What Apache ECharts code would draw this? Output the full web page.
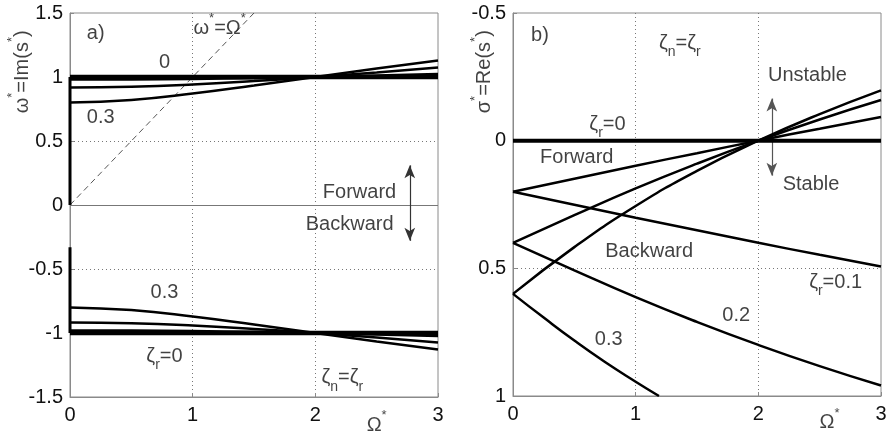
<!DOCTYPE html>
<html>
<head>
<meta charset="utf-8">
<script src="https://cdn.jsdelivr.net/npm/echarts@6/dist/echarts.min.js"></script>
<style>
  html, body { margin: 0; padding: 0; background: #fff; }
  #chart { width: 892px; height: 436px; }
</style>
</head>
<body>
<div id="chart"></div>
<script>
// ---- Tick values ----
const xTicks = [0, 1, 2, 3];
const yTicksA = [-1.5, -1, -0.5, 0, 0.5, 1, 1.5];
const yTicksB = [-0.5, 0, 0.5, 1];

// ---- Rotor speed samples ----
const OMEGA = [0, 0.5, 1, 1.5, 2, 2.5, 3];
const OMEGA_B3 = [0, 0.25, 0.5, 0.75, 1, 1.19];

// ---- a) whirl frequency, forward branches (zeta_r = 0, 0.1, 0.2, 0.3) ----
const imFwd0 = [1, 1, 1, 1, 1, 1, 1];
const imFwd1 = [0.98, 0.981, 0.985, 0.991, 1, 1.011, 1.023];
const imFwd2 = [0.917, 0.923, 0.941, 0.968, 1, 1.036, 1.074];
const imFwd3 = [0.80, 0.821, 0.871, 0.934, 1, 1.066, 1.129];
// ---- a) whirl frequency, backward branches ----
const imBwd0 = [-1, -1, -1, -1, -1, -1, -1];
const imBwd1 = [-0.98, -0.981, -0.985, -0.991, -1, -1.011, -1.023];
const imBwd2 = [-0.917, -0.923, -0.941, -0.968, -1, -1.036, -1.074];
const imBwd3 = [-0.80, -0.821, -0.871, -0.934, -1, -1.066, -1.129];
// vertical pieces at zero speed
const imZeroX = [0, 0];
const imZeroUpY = [1, 0];
const imZeroLoY = [-0.33, -1];
// reference line omega* = Omega*
const refX = [0, 1.5];
const refY = [0, 1.5];

// ---- b) real part, forward branches ----
const reFwd0 = [0, 0, 0, 0, 0, 0, 0];
const reFwd1 = [0.2, 0.149, 0.098, 0.049, 0, -0.047, -0.093];
const reFwd2 = [0.4, 0.292, 0.187, 0.090, 0, -0.083, -0.159];
const reFwd3 = [0.6, 0.417, 0.256, 0.118, 0, -0.104, -0.197];
// ---- b) real part, backward branches ----
const reBwd1 = [0.2, 0.251, 0.302, 0.351, 0.4, 0.447, 0.493];
const reBwd2 = [0.4, 0.508, 0.613, 0.710, 0.8, 0.883, 0.959];
const reBwd3 = [0.6, 0.693, 0.783, 0.867, 0.944, 1.0];

// ---- arrows (x, y from, y to) ----
const arrowA = [2.77, 0.31, -0.28];
const arrowB = [2.11, -0.165, 0.137];

const FONT = '"Liberation Sans", Arial, Helvetica, sans-serif';
const INK = '#111';
const FS = 20;

const rich = {
  m: { fontSize: FS, fontFamily: FONT, color: INK, lineHeight: 32, verticalAlign: 'middle' },
  s: { fontSize: 14, fontFamily: FONT, color: INK, lineHeight: 14, verticalAlign: 'bottom' },
  p: { fontSize: 13, fontFamily: FONT, color: INK, lineHeight: 13, verticalAlign: 'top' }
};

// annotations: [x, y, rich text, rotate]
const notesA = [
  [0.21, 1.34, '{m|a)}'],
  [1.22, 1.38, '{m|ω}{p|*}{m|=Ω}{p|*}'],
  [0.77, 1.11, '{m|0}'],
  [0.25, 0.68, '{m|0.3}'],
  [2.36, 0.10, '{m|Forward}'],
  [2.28, -0.15, '{m|Backward}'],
  [0.77, -0.68, '{m|0.3}'],
  [0.77, -1.18, '{m|ζ}{s|r}{m|=0}'],
  [2.22, -1.35, '{m|ζ}{s|n}{m|=ζ}{s|r}'],
  [2.5, -1.72, '{m|Ω}{p|*}'],
  [-0.39, 1.04, '{m|ω}{p|*}{m|=Im(s}{p|*}{m|)}', 90]
];
const notesB = [
  [0.22, -0.41, '{m|b)}'],
  [1.36, -0.38, '{m|ζ}{s|n}{m|=ζ}{s|r}'],
  [2.40, -0.255, '{m|Unstable}'],
  [2.43, 0.17, '{m|Stable}'],
  [0.77, -0.065, '{m|ζ}{s|r}{m|=0}'],
  [0.52, 0.067, '{m|Forward}'],
  [1.11, 0.435, '{m|Backward}'],
  [2.63, 0.555, '{m|ζ}{s|r}{m|=0.1}'],
  [1.82, 0.685, '{m|0.2}'],
  [0.78, 0.78, '{m|0.3}'],
  [2.58, 1.105, '{m|Ω}{p|*}'],
  [-0.23, -0.27, '{m|σ}{p|*}{m|=Re(s}{p|*}{m|)}', 90]
];

function zip(xs, ys) { return xs.map((x, i) => [x, ys[i]]); }

function curve(idx, xs, ys, width, extra) {
  return Object.assign({
    type: 'line', xAxisIndex: idx, yAxisIndex: idx,
    data: zip(xs, ys), smooth: true, symbol: 'none', silent: true,
    lineStyle: { color: '#000', width: width }, z: 5
  }, extra || {});
}

function noteSeries(idx, notes) {
  return {
    type: 'scatter', xAxisIndex: idx, yAxisIndex: idx, clip: false, silent: true,
    symbolSize: 1, itemStyle: { color: 'rgba(0,0,0,0)' }, z: 10,
    data: notes.map(n => ({
      value: [n[0], n[1]],
      label: { show: true, position: 'inside', formatter: n[2], rich: rich, rotate: n[3] || 0 }
    }))
  };
}

function arrow(a, color) {
  return {
    silent: true, symbol: ['arrow', 'arrow'], symbolSize: [8, 13], animation: false,
    label: { show: false },
    lineStyle: { color: color, width: 1.2, type: 'solid' },
    data: [[{ coord: [a[0], a[1]] }, { coord: [a[0], a[2]] }]]
  };
}

const tickMin = t => t[0];
const tickMax = t => t[t.length - 1];
const tickStep = t => t[1] - t[0];

function xAxisCfg(idx) {
  return {
    type: 'value', gridIndex: idx,
    min: tickMin(xTicks), max: tickMax(xTicks), interval: tickStep(xTicks),
    axisLine: { show: true, onZero: false, lineStyle: { color: '#8a8a8a', width: 1 } },
    axisTick: { show: true, inside: true, length: 4, lineStyle: { color: '#8a8a8a' } },
    axisLabel: { color: INK, fontSize: FS, fontFamily: FONT, margin: 8 },
    splitLine: { show: true, showMinLine: false, showMaxLine: false,
      lineStyle: { color: '#777', type: [1, 3], width: 1 } }
  };
}

function yAxisCfg(idx, ticks, inverse) {
  return {
    type: 'value', gridIndex: idx, inverse: inverse,
    min: tickMin(ticks), max: tickMax(ticks), interval: tickStep(ticks),
    axisLine: { show: true, onZero: false, lineStyle: { color: '#8a8a8a', width: 1 } },
    axisTick: { show: true, inside: true, length: 4, lineStyle: { color: '#8a8a8a' } },
    axisLabel: { color: INK, fontSize: FS, fontFamily: FONT, margin: 7 },
    splitLine: { show: true, showMinLine: false, showMaxLine: false,
      lineStyle: { color: '#777', type: [1, 3], width: 1 } }
  };
}

const chart = echarts.init(document.getElementById('chart'), null, { renderer: 'canvas' });

chart.setOption({
  animation: false,
  backgroundColor: '#fff',
  grid: [
    { left: 70, top: 13, width: 368, height: 384, show: true, borderColor: '#8a8a8a', borderWidth: 1, backgroundColor: 'transparent' },
    { left: 513, top: 13, width: 368, height: 383, show: true, borderColor: '#8a8a8a', borderWidth: 1, backgroundColor: 'transparent' }
  ],
  xAxis: [xAxisCfg(0), xAxisCfg(1)],
  yAxis: [yAxisCfg(0, yTicksA, false), yAxisCfg(1, yTicksB, true)],
  series: [
    // a) reference line, zero line
    curve(0, refX, refY, 1, {
      smooth: false, z: 3,
      lineStyle: { color: '#555', width: 1, type: [6, 4] },
      markLine: {
        silent: true, symbol: 'none', label: { show: false },
        lineStyle: { color: '#777', width: 1, type: 'solid' },
        data: [{ yAxis: 0 }]
      }
    }),
    curve(0, imZeroX, imZeroUpY, 3, { smooth: false }),
    curve(0, imZeroX, imZeroLoY, 3, { smooth: false }),
    curve(0, OMEGA, imFwd0, 4.5),
    curve(0, OMEGA, imFwd1, 2.5),
    curve(0, OMEGA, imFwd2, 2.5),
    curve(0, OMEGA, imFwd3, 2.5),
    curve(0, OMEGA, imBwd0, 4.5),
    curve(0, OMEGA, imBwd1, 2.5),
    curve(0, OMEGA, imBwd2, 2.5),
    curve(0, OMEGA, imBwd3, 2.5, { markLine: arrow(arrowA, '#333') }),
    noteSeries(0, notesA),

    // b) real parts
    curve(1, OMEGA, reFwd0, 4),
    curve(1, OMEGA, reFwd1, 2.5),
    curve(1, OMEGA, reFwd2, 2.5),
    curve(1, OMEGA, reFwd3, 2.5),
    curve(1, OMEGA, reBwd1, 2.5),
    curve(1, OMEGA, reBwd2, 2.5),
    curve(1, OMEGA_B3, reBwd3, 2.5, { markLine: arrow(arrowB, '#555') }),
    noteSeries(1, notesB)
  ]
});
</script>
</body>
</html>
